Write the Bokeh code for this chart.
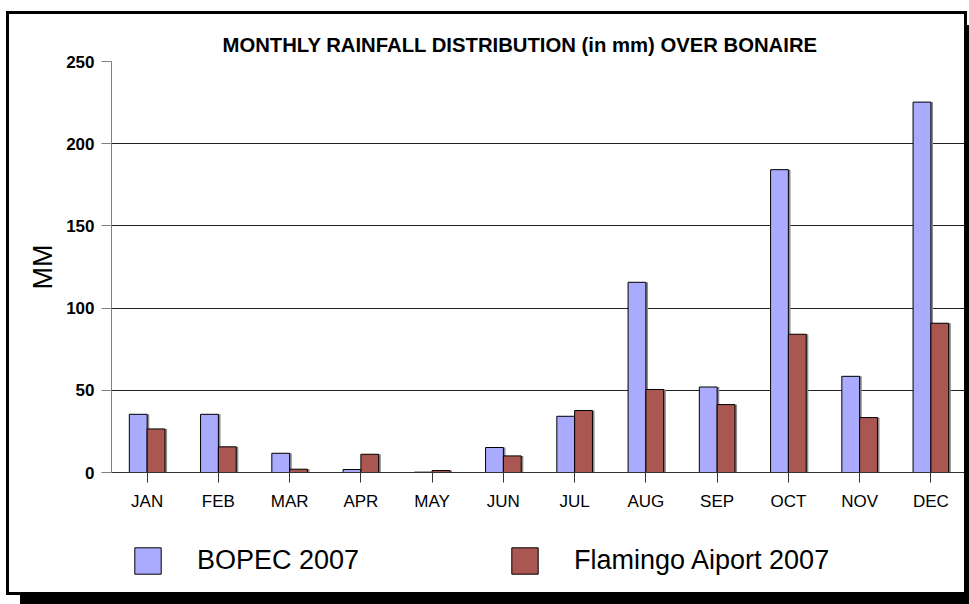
from bokeh.plotting import figure
from bokeh.layouts import column
from bokeh.models import Range1d, FactorRange, Legend, LegendItem, SingleIntervalTicker, ColumnDataSource
from bokeh.transform import dodge
from bokeh.embed import file_html
from bokeh.resources import INLINE

months = ["JAN", "FEB", "MAR", "APR", "MAY", "JUN", "JUL", "AUG", "SEP", "OCT", "NOV", "DEC"]
bopec = [35.4, 35.4, 11.7, 1.8, 0.2, 15.2, 34.2, 115.7, 52.0, 184.2, 58.5, 225.3]
flamingo = [26.5, 15.6, 2.0, 11.1, 1.2, 10.1, 37.7, 50.5, 41.3, 84.1, 33.4, 90.8]
series_names = ["BOPEC 2007", "Flamingo Aiport 2007"]
title_text = "MONTHLY RAINFALL DISTRIBUTION (in mm) OVER BONAIRE"
colors = ["#AAAAFF", "#AA5751"]
shadow_color = "#8C8C8C"

src = ColumnDataSource(dict(m=months, b=bopec, f=flamingo))

FONT = "Liberation Sans"

xr = FactorRange(*months, range_padding=0)

p = figure(
    x_range=xr,
    y_range=Range1d(0, 250),
    width=961, height=514,
    output_backend="svg", toolbar_location=None,
    min_border_left=102, min_border_right=4, min_border_top=47, min_border_bottom=56,
)
p.styles = {"border-left": "3px solid black", "border-right": "3px solid black",
            "border-top": "3px solid black", "background": "white"}
p.outline_line_color = None
p.background_fill_color = "white"
p.border_fill_color = "white"

p.title.text = title_text
p.title.text_font = FONT
p.title.text_font_style = "bold"
p.title.text_font_size = "20.3px"
p.title.text_color = "black"
p.title.align = "left"
p.title.offset = 111
p.title.standoff = 12

# subtle bar shadows
p.vbar(x=dodge("m", -0.125 + 0.03, range=xr), top="b", width=0.25, source=src,
       fill_color=shadow_color, line_color=None)
p.vbar(x=dodge("m", 0.125 + 0.03, range=xr), top="f", width=0.25, source=src,
       fill_color=shadow_color, line_color=None)

r1 = p.vbar(x=dodge("m", -0.125, range=xr), top="b", width=0.25, source=src,
            fill_color=colors[0], line_color="black", line_width=1)
r2 = p.vbar(x=dodge("m", 0.125, range=xr), top="f", width=0.25, source=src,
            fill_color=colors[1], line_color="black", line_width=1)

# axes
p.yaxis.ticker = SingleIntervalTicker(interval=50)
p.yaxis.axis_line_color = "#808080"
p.yaxis.major_tick_line_color = "#808080"
p.yaxis.major_tick_out = 10
p.yaxis.major_tick_in = 0
p.yaxis.minor_tick_line_color = None
p.yaxis.major_label_text_font = FONT
p.yaxis.major_label_text_font_style = "bold"
p.yaxis.major_label_text_font_size = "17px"
p.yaxis.major_label_text_color = "black"
p.yaxis.major_label_standoff = 7
p.yaxis.axis_label = "MM"
p.yaxis.axis_label_text_font = FONT
p.yaxis.axis_label_text_font_style = "normal"
p.yaxis.axis_label_text_font_size = "27px"
p.yaxis.axis_label_text_color = "black"
p.yaxis.axis_label_standoff = 5

p.xaxis.axis_line_color = "#333333"
p.xaxis.major_tick_line_color = "#333333"
p.xaxis.major_tick_out = 10
p.xaxis.major_tick_in = 0
p.xaxis.major_label_text_font = FONT
p.xaxis.major_label_text_font_size = "17px"
p.xaxis.major_label_text_color = "black"
p.xaxis.major_label_standoff = 9

p.xgrid.grid_line_color = None
p.ygrid.grid_line_color = "#222222"
p.ygrid.grid_line_width = 1

# legend strip below the chart (its renderers are hidden; only the legend shows)
leg = figure(
    width=961, height=70, x_range=xr, y_range=Range1d(0, 250),
    output_backend="svg", toolbar_location=None,
    x_axis_location=None, y_axis_location=None, min_border=0,
)
leg.styles = {"border-left": "3px solid black", "border-right": "3px solid black",
              "border-bottom": "3px solid black", "background": "white"}
leg.outline_line_color = None
leg.grid.visible = False
leg.background_fill_color = "white"
leg.border_fill_color = "white"
l1 = leg.vbar(x=dodge("m", -0.125, range=xr), top="b", width=0.25, source=src,
              fill_color=colors[0], line_color="black", line_width=1, visible=False)
l2 = leg.vbar(x=dodge("m", 0.125, range=xr), top="f", width=0.25, source=src,
              fill_color=colors[1], line_color="black", line_width=1, visible=False)

legend = Legend(
    items=[LegendItem(label=series_names[0], renderers=[l1]),
           LegendItem(label=series_names[1], renderers=[l2])],
    location=(20, 18), orientation="horizontal",
    glyph_width=33, glyph_height=33, label_standoff=33, label_width=311, spacing=0,
    label_text_font=FONT, label_text_font_size="27px", label_text_color="black",
    padding=0, margin=0, border_line_alpha=0, background_fill_alpha=0,
    inactive_fill_alpha=0,
)
leg.add_layout(legend, "center")

layout = column(p, leg, spacing=0)
layout.styles = {"box-shadow": "14px 14px 0 0 black", "margin-left": "6px", "margin-top": "11px"}

open("out.html", "w").write(file_html(layout, INLINE))
